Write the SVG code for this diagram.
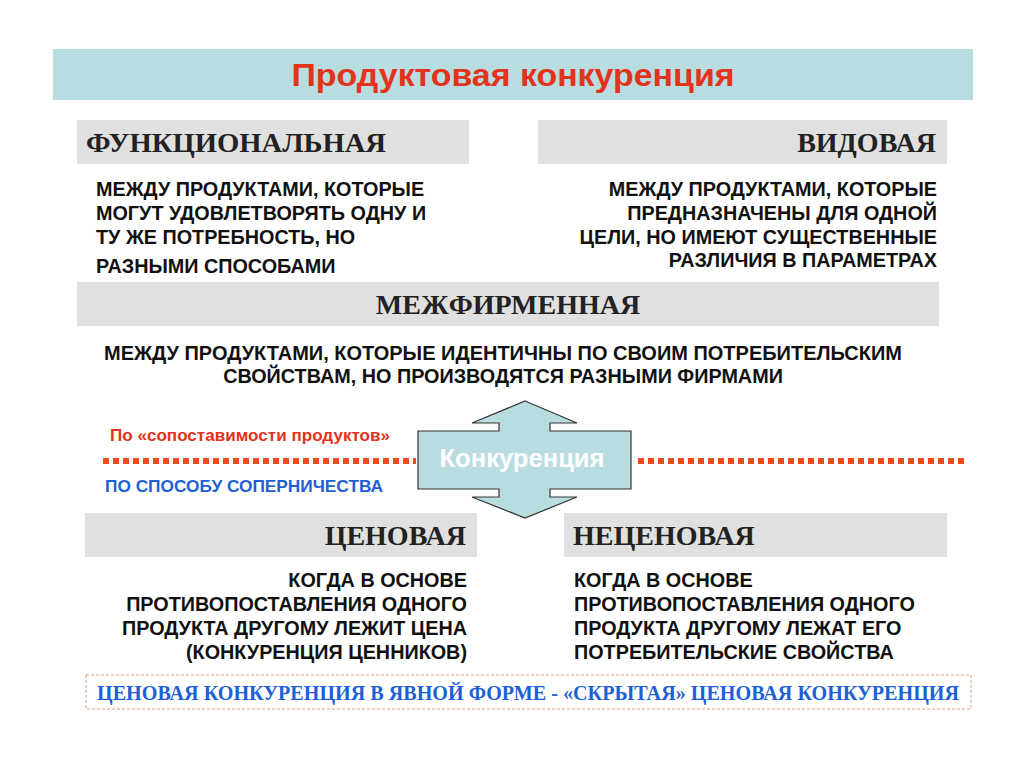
<svg xmlns="http://www.w3.org/2000/svg" width="1024" height="768" viewBox="0 0 1024 768">
<style>
.hd{fill:#e0e0e0}
.ht{font-family:"Liberation Serif",serif;font-weight:bold;font-size:28px;fill:#222}
.bt{font-family:"Liberation Sans",sans-serif;font-weight:bold;font-size:19.8px;fill:#111}
.dot{stroke:#f04a1e;stroke-width:6;stroke-dasharray:6 4;fill:none}
</style>
<rect width="1024" height="768" fill="#fff"/>
<g id="title"><rect x="53" y="49" width="920" height="51" fill="#b8dde0"/>
<text x="513" y="86" text-anchor="middle" font-family="Liberation Sans,sans-serif" font-weight="bold" font-size="32" fill="#e3331c" textLength="443" lengthAdjust="spacingAndGlyphs">Продуктовая конкуренция</text></g>
<g id="func"><rect class="hd" x="77" y="120" width="392" height="44"/>
<text class="ht" x="86" y="152" textLength="300" lengthAdjust="spacingAndGlyphs">ФУНКЦИОНАЛЬНАЯ</text>
<text class="bt" x="96" y="196">МЕЖДУ ПРОДУКТАМИ, КОТОРЫЕ</text>
<text class="bt" x="96" y="220">МОГУТ УДОВЛЕТВОРЯТЬ ОДНУ И</text>
<text class="bt" x="96" y="244">ТУ ЖЕ ПОТРЕБНОСТЬ, НО</text>
<text class="bt" x="96" y="273">РАЗНЫМИ СПОСОБАМИ</text></g>
<g id="vid"><rect class="hd" x="538" y="120" width="409" height="44"/>
<text class="ht" x="936" y="152" text-anchor="end">ВИДОВАЯ</text>
<g text-anchor="end"><text class="bt" x="937" y="196">МЕЖДУ ПРОДУКТАМИ, КОТОРЫЕ</text>
<text class="bt" x="937" y="220">ПРЕДНАЗНАЧЕНЫ ДЛЯ ОДНОЙ</text>
<text class="bt" x="937" y="244">ЦЕЛИ, НО ИМЕЮТ СУЩЕСТВЕННЫЕ</text>
<text class="bt" x="937" y="267">РАЗЛИЧИЯ В ПАРАМЕТРАХ</text></g></g>
<g id="mezh"><rect class="hd" x="77" y="282" width="862" height="44"/>
<text class="ht" x="508" y="314" text-anchor="middle">МЕЖФИРМЕННАЯ</text>
<text class="bt" x="503" y="360" text-anchor="middle" textLength="798" lengthAdjust="spacingAndGlyphs">МЕЖДУ ПРОДУКТАМИ, КОТОРЫЕ ИДЕНТИЧНЫ ПО СВОИМ ПОТРЕБИТЕЛЬСКИМ</text>
<text class="bt" x="503" y="383" text-anchor="middle">СВОЙСТВАМ, НО ПРОИЗВОДЯТСЯ РАЗНЫМИ ФИРМАМИ</text></g>
<g id="connectors">
<line class="dot" x1="103" y1="461" x2="416" y2="461"/>
<line class="dot" x1="638" y1="461" x2="964" y2="461"/>
</g>
<text x="110" y="441" font-family="Liberation Sans,sans-serif" font-weight="bold" font-size="16.5" fill="#e3331c" textLength="280" lengthAdjust="spacingAndGlyphs">По «сопоставимости продуктов»</text>
<text x="105" y="492" font-family="Liberation Sans,sans-serif" font-weight="bold" font-size="16.5" fill="#1d5fd6" textLength="278" lengthAdjust="spacingAndGlyphs">ПО СПОСОБУ СОПЕРНИЧЕСТВА</text>
<g id="konk"><path d="M525,401 L577,423 L550,423 L550,431 L631,431 L631,489 L550,489 L550,497 L577,497 L525,518 L472,497 L499,497 L499,489 L418,489 L418,431 L499,431 L499,423 L472,423 Z" fill="#b8dde0" stroke="#333" stroke-width="1.2"/>
<text x="522" y="467" text-anchor="middle" font-family="Liberation Sans,sans-serif" font-weight="bold" font-size="25" fill="#fff" textLength="165" lengthAdjust="spacingAndGlyphs">Конкуренция</text></g>
<g id="cen"><rect class="hd" x="85" y="513" width="392" height="44"/>
<text class="ht" x="466" y="545" text-anchor="end">ЦЕНОВАЯ</text>
<g text-anchor="end"><text class="bt" x="467" y="587">КОГДА В ОСНОВЕ</text>
<text class="bt" x="467" y="611">ПРОТИВОПОСТАВЛЕНИЯ ОДНОГО</text>
<text class="bt" x="467" y="635">ПРОДУКТА ДРУГОМУ ЛЕЖИТ ЦЕНА</text>
<text class="bt" x="467" y="659">(КОНКУРЕНЦИЯ ЦЕННИКОВ)</text></g></g>
<g id="necen"><rect class="hd" x="564" y="513" width="383" height="44"/>
<text class="ht" x="573" y="545">НЕЦЕНОВАЯ</text>
<text class="bt" x="574" y="587">КОГДА В ОСНОВЕ</text>
<text class="bt" x="574" y="611">ПРОТИВОПОСТАВЛЕНИЯ ОДНОГО</text>
<text class="bt" x="574" y="635">ПРОДУКТА ДРУГОМУ ЛЕЖАТ ЕГО</text>
<text class="bt" x="574" y="659">ПОТРЕБИТЕЛЬСКИЕ СВОЙСТВА</text></g>
<g id="bottom"><rect x="86" y="675" width="885" height="34" fill="#fff" stroke="#d9a080" stroke-width="1" stroke-dasharray="3 2"/>
<text x="528" y="700" text-anchor="middle" font-family="Liberation Serif,serif" font-weight="bold" font-size="21" fill="#1d5fd6" textLength="862" lengthAdjust="spacingAndGlyphs">ЦЕНОВАЯ КОНКУРЕНЦИЯ В ЯВНОЙ ФОРМЕ - «СКРЫТАЯ» ЦЕНОВАЯ КОНКУРЕНЦИЯ</text></g>
</svg>
